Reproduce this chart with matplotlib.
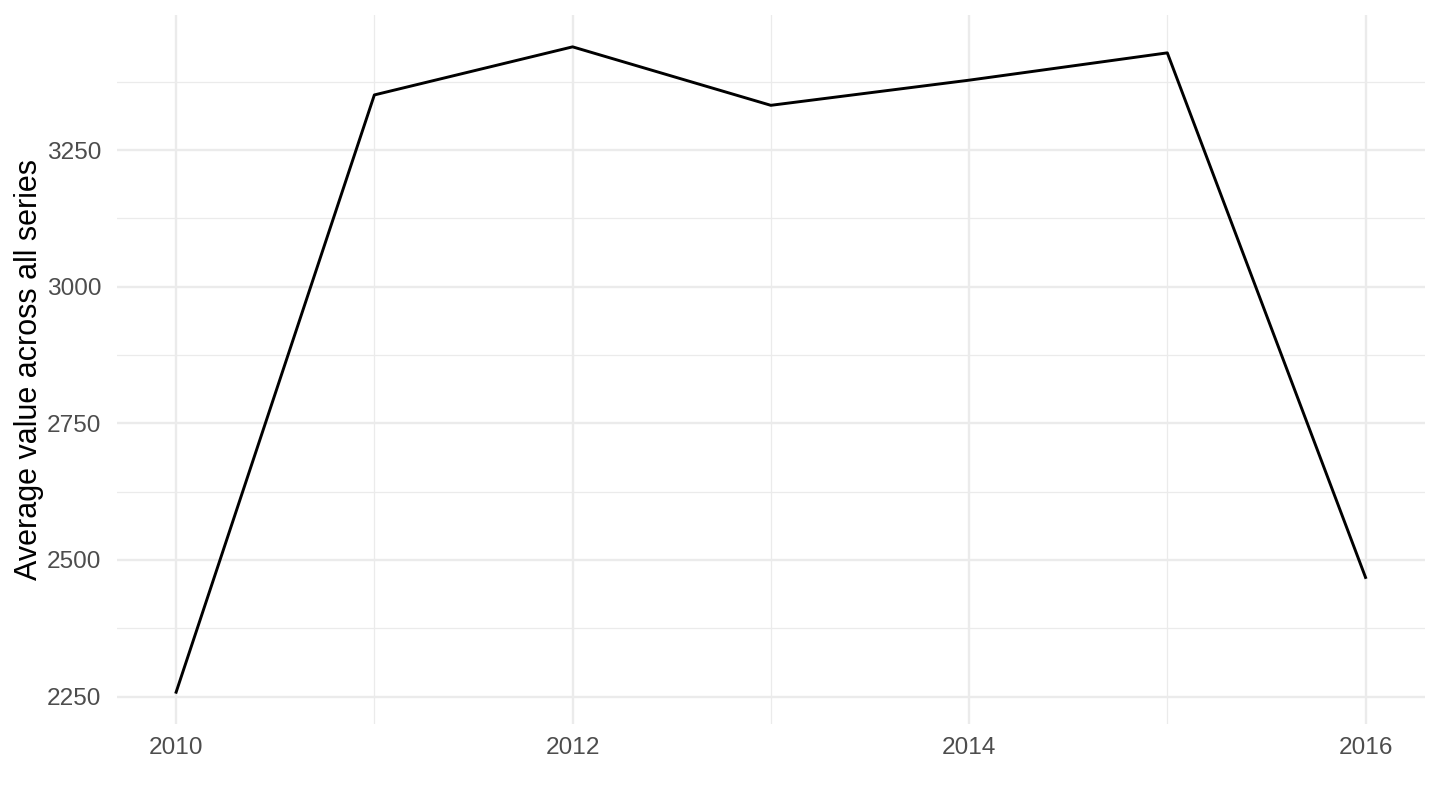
import matplotlib
matplotlib.use("Agg")
import matplotlib.pyplot as plt
from matplotlib.ticker import MultipleLocator

years = [2010, 2011, 2012, 2013, 2014, 2015, 2016]
avg_values = [2258, 3351, 3439, 3332, 3378, 3428, 2468]

x_ticks = [2010, 2012, 2014, 2016]
y_ticks = [2250, 2500, 2750, 3000, 3250]

plt.rcParams['font.family'] = ['Liberation Sans', 'DejaVu Sans']

fig = plt.figure(figsize=(7.2, 4.05), dpi=200)
ax = fig.add_axes([0.081, 0.1056, 0.9086, 0.8764])

# ggplot-like expansion (5%)
xmin, xmax = min(years), max(years)
ymin, ymax = min(avg_values), max(avg_values)
dx = (xmax - xmin) * 0.05
dy = (ymax - ymin) * 0.05
ax.set_xlim(xmin - dx, xmax + dx)
ax.set_ylim(ymin - dy, ymax + dy)

ax.set_xticks(x_ticks)
ax.set_yticks(y_ticks)
ax.xaxis.set_minor_locator(MultipleLocator(1))
ax.yaxis.set_minor_locator(MultipleLocator(125))

ax.grid(which="major", color="#EBEBEB", linewidth=0.85)
ax.grid(which="minor", color="#EBEBEB", linewidth=0.45)
ax.set_axisbelow(True)

ax.plot(years, avg_values, color="black", linewidth=1.05, zorder=3)

for s in ax.spines.values():
    s.set_visible(False)
ax.tick_params(which="both", length=0)
ax.tick_params(axis="y", pad=5.6, labelsize=8.8, labelcolor="#4D4D4D")
ax.tick_params(axis="x", pad=4.5, labelsize=8.8, labelcolor="#4D4D4D")

ax.set_ylabel("Average value across all series", fontsize=11, color="black", labelpad=0.8)

fig.savefig("out.png", dpi=200, facecolor="white")
